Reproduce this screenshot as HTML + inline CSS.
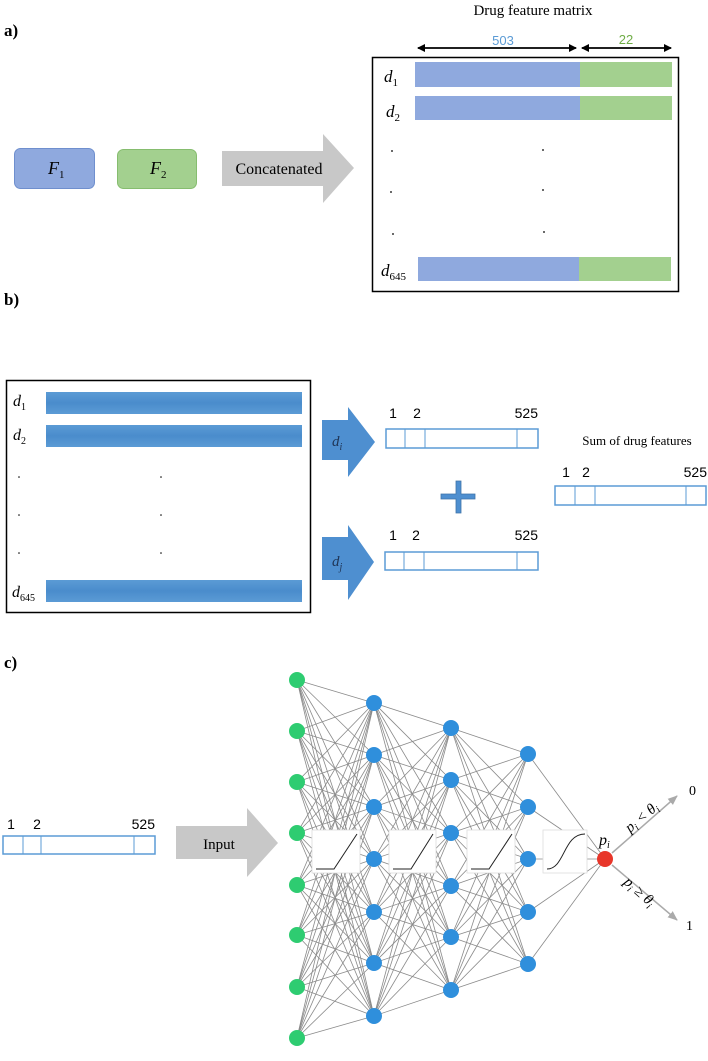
<!DOCTYPE html>
<html><head><meta charset="utf-8"><style>
html,body{margin:0;padding:0;background:#fff;}
svg{display:block;}
text{font-family:"Liberation Serif",serif;}
text.s,.s text{font-family:"Liberation Sans",sans-serif;}
</style></head><body>
<svg id="g" width="708" height="1061" viewBox="0 0 708 1061" xmlns="http://www.w3.org/2000/svg">
<defs>
<marker id="ah" markerWidth="8" markerHeight="8" refX="7" refY="4" orient="auto" markerUnits="userSpaceOnUse"><path d="M0,0 L8,4 L0,8 Z" fill="#000"/></marker>
<marker id="ag" markerWidth="10" markerHeight="10" refX="9" refY="5" orient="auto" markerUnits="userSpaceOnUse"><path d="M0,1 L10,5 L0,9 Z" fill="#aaa"/></marker>
<linearGradient id="bb" x1="0" y1="0" x2="0" y2="1"><stop offset="0" stop-color="#5b9bd5"/><stop offset="0.5" stop-color="#4a8ccc"/><stop offset="1" stop-color="#5b9bd5"/></linearGradient>
</defs>
<!-- a -->
<text x="4" y="36" font-size="17" font-weight="bold">a)</text>
<text x="533" y="15" font-size="15" text-anchor="middle">Drug feature matrix</text>
<text x="503" y="45" font-size="13" fill="#5b9bd5" text-anchor="middle" class="s">503</text>
<text x="626" y="44" font-size="13" fill="#70ad47" text-anchor="middle" class="s">22</text>
<line x1="418" y1="48" x2="576" y2="48" stroke="#000" stroke-width="1.5" marker-end="url(#ah)"/>
<line x1="576" y1="48" x2="418" y2="48" stroke="#000" stroke-width="1.5" marker-end="url(#ah)"/>
<line x1="582" y1="48" x2="671" y2="48" stroke="#000" stroke-width="1.5" marker-end="url(#ah)"/>
<line x1="671" y1="48" x2="582" y2="48" stroke="#000" stroke-width="1.5" marker-end="url(#ah)"/>
<rect x="372.5" y="57.5" width="306" height="234" fill="none" stroke="#000" stroke-width="1.5"/>
<rect x="415" y="62" width="165" height="25" fill="#8fa9de"/><rect x="580" y="62" width="92" height="25" fill="#a3d08f"/>
<rect x="415" y="96" width="165" height="24" fill="#8fa9de"/><rect x="580" y="96" width="92" height="24" fill="#a3d08f"/>
<rect x="418" y="257" width="161" height="24" fill="#8fa9de"/><rect x="579" y="257" width="92" height="24" fill="#a3d08f"/>
<text x="384" y="82" font-size="17" font-style="italic">d<tspan font-size="11" dy="4" font-style="normal">1</tspan></text>
<text x="386" y="117" font-size="17" font-style="italic">d<tspan font-size="11" dy="4" font-style="normal">2</tspan></text>
<text x="381" y="276" font-size="17" font-style="italic">d<tspan font-size="11" dy="4" font-style="normal">645</tspan></text>
<g fill="#000"><circle cx="392" cy="151" r="0.9"/><circle cx="543" cy="150" r="0.9"/><circle cx="391" cy="192" r="0.9"/><circle cx="543" cy="190" r="0.9"/><circle cx="393" cy="234" r="0.9"/><circle cx="544" cy="232" r="0.9"/></g>
<rect x="14.5" y="148.5" width="80" height="40" rx="6" fill="#8fa9de" stroke="#6f8fce"/>
<rect x="117.5" y="149.5" width="79" height="39" rx="6" fill="#a3d08f" stroke="#86bd6f"/>
<text x="48" y="174" font-size="18" font-style="italic">F<tspan font-size="11" dy="4" font-style="normal">1</tspan></text>
<text x="150" y="174" font-size="18" font-style="italic">F<tspan font-size="11" dy="4" font-style="normal">2</tspan></text>
<path d="M222,151 H323 V134 L354,168 L323,203 V186 H222 Z" fill="#c8c8c8"/>
<text x="279" y="174" font-size="16" text-anchor="middle">Concatenated</text>
<!-- b -->
<text x="4" y="305" font-size="17" font-weight="bold">b)</text>
<rect x="6.5" y="380.5" width="304" height="232" fill="none" stroke="#000" stroke-width="1.5"/>
<rect x="46" y="392" width="256" height="22" fill="url(#bb)"/>
<rect x="46" y="425" width="256" height="22" fill="url(#bb)"/>
<rect x="46" y="580" width="256" height="22" fill="url(#bb)"/>
<text x="13" y="406" font-size="16" font-style="italic">d<tspan font-size="10" dy="4" font-style="normal">1</tspan></text>
<text x="13" y="440" font-size="16" font-style="italic">d<tspan font-size="10" dy="4" font-style="normal">2</tspan></text>
<text x="12" y="597" font-size="16" font-style="italic">d<tspan font-size="10" dy="4" font-style="normal">645</tspan></text>
<g fill="#000"><circle cx="19" cy="477" r="0.8"/><circle cx="161" cy="477" r="0.8"/><circle cx="19" cy="515" r="0.8"/><circle cx="161" cy="515" r="0.8"/><circle cx="19" cy="553" r="0.8"/><circle cx="161" cy="553" r="0.8"/></g>
<path d="M322,420 H348 V407 L375,442 L348,477 V460 H322 Z" fill="#4e8fd0"/>
<path d="M322,537 H348 V525 L374,562 L348,600 V580 H322 Z" fill="#4e8fd0"/>
<text x="332" y="446" font-size="15" font-style="italic" fill="#1f3556">d<tspan font-size="10" dy="4">i</tspan></text>
<text x="332" y="566" font-size="15" font-style="italic" fill="#1f3556">d<tspan font-size="10" dy="4">j</tspan></text>
<g fill="none" stroke="#5b9bd5" stroke-width="1.5">
<rect x="386" y="429" width="152" height="19"/><line x1="405" y1="429" x2="405" y2="448" stroke-width="1"/><line x1="425" y1="429" x2="425" y2="448" stroke-width="1"/><line x1="517" y1="429" x2="517" y2="448" stroke-width="1"/>
<rect x="385" y="552" width="153" height="18"/><line x1="404" y1="552" x2="404" y2="570" stroke-width="1"/><line x1="424" y1="552" x2="424" y2="570" stroke-width="1"/><line x1="517" y1="552" x2="517" y2="570" stroke-width="1"/>
<rect x="555" y="486" width="151" height="19"/><line x1="575" y1="486" x2="575" y2="505" stroke-width="1"/><line x1="595" y1="486" x2="595" y2="505" stroke-width="1"/><line x1="686" y1="486" x2="686" y2="505" stroke-width="1"/>
</g>
<g class="s" font-size="14">
<text x="393" y="418" text-anchor="middle">1</text><text x="417" y="418" text-anchor="middle">2</text><text x="538" y="418" text-anchor="end">525</text>
<text x="393" y="540" text-anchor="middle">1</text><text x="416" y="540" text-anchor="middle">2</text><text x="538" y="540" text-anchor="end">525</text>
<text x="566" y="477" text-anchor="middle">1</text><text x="586" y="477" text-anchor="middle">2</text><text x="707" y="477" text-anchor="end">525</text>
<text x="11" y="829" text-anchor="middle">1</text><text x="37" y="829" text-anchor="middle">2</text><text x="155" y="829" text-anchor="end">525</text>
</g>
<text x="637" y="445" font-size="13" text-anchor="middle">Sum of drug features</text>
<path d="M441,494 H456 V481 H461 V494 H475 V499 H461 V513 H456 V499 H441 Z" fill="#4e8fd0" stroke="#3f74a8" stroke-width="0.8"/>
<!-- c -->
<text x="4" y="668" font-size="17" font-weight="bold">c)</text>
<g fill="none" stroke="#5b9bd5" stroke-width="1.5">
<rect x="3" y="836" width="152" height="18"/><line x1="23" y1="836" x2="23" y2="854" stroke-width="1"/><line x1="41" y1="836" x2="41" y2="854" stroke-width="1"/><line x1="134" y1="836" x2="134" y2="854" stroke-width="1"/>
</g>
<path d="M176,826 H247 V808 L278,843 L247,877 V859 H176 Z" fill="#c8c8c8"/>
<text x="219" y="849" font-size="15" text-anchor="middle">Input</text>
<g id="edges" stroke="#8a8a8a" stroke-width="0.8"></g>
<g id="plots"></g>
<g id="nodes"></g>
<line x1="612" y1="853" x2="677" y2="796" stroke="#aaa" stroke-width="1.5" marker-end="url(#ag)"/>
<line x1="612" y1="865" x2="677" y2="920" stroke="#aaa" stroke-width="1.5" marker-end="url(#ag)"/>
<text x="599" y="845" font-size="16" font-style="italic">p<tspan font-size="10" dy="3">i</tspan></text>
<text x="0" y="0" font-size="15" font-style="italic" transform="translate(630,833) rotate(-40)">p<tspan font-size="10" dy="3">i</tspan><tspan dy="-3"> &lt; θ</tspan><tspan font-size="10" dy="3">i</tspan></text>
<text x="0" y="0" font-size="15" font-style="italic" transform="translate(623,883) rotate(42)">p<tspan font-size="10" dy="3">i</tspan><tspan dy="-3"> ≥ θ</tspan><tspan font-size="10" dy="3">i</tspan></text>
<text x="689" y="795" font-size="14">0</text>
<text x="686" y="930" font-size="14">1</text>
</svg>
<script>
var NS="http://www.w3.org/2000/svg";
var L=[[297,[680,731,782,833,885,935,987,1038],"#2ecc71"],[374,[703,755,807,859,912,963,1016],"#2f8fdc"],[451,[728,780,833,886,937,990],"#2f8fdc"],[528,[754,807,859,912,964],"#2f8fdc"]];
var E=document.getElementById("edges"),N=document.getElementById("nodes"),P=document.getElementById("plots");
function el(t,a,p){var e=document.createElementNS(NS,t);for(var k in a)e.setAttribute(k,a[k]);p.appendChild(e);return e;}
for(var i=0;i<L.length-1;i++)L[i][1].forEach(function(a){L[i+1][1].forEach(function(b){el("line",{x1:L[i][0],y1:a,x2:L[i+1][0],y2:b},E);});});
L[3][1].forEach(function(b){el("line",{x1:528,y1:b,x2:605,y2:859},E);});
[[312,830,48,43,0],[389,830,47,43,0],[467,830,48,43,0],[543,830,44,43,1]].forEach(function(r){
 el("rect",{x:r[0],y:r[1],width:r[2],height:r[3],fill:"#fff",stroke:"#ddd","stroke-width":0.8},P);
 if(r[4])el("path",{d:"M"+(r[0]+4)+","+(r[1]+r[3]-4)+" C"+(r[0]+22)+","+(r[1]+r[3]-4)+" "+(r[0]+20)+","+(r[1]+4)+" "+(r[0]+r[2]-2)+","+(r[1]+4),fill:"none",stroke:"#222","stroke-width":1},P);
 else el("path",{d:"M"+(r[0]+4)+","+(r[1]+r[3]-4)+" H"+(r[0]+22)+" L"+(r[0]+r[2]-3)+","+(r[1]+4),fill:"none",stroke:"#222","stroke-width":1},P);
});
L.forEach(function(l){l[1].forEach(function(y){el("circle",{cx:l[0],cy:y,r:8,fill:l[2]},N);});});
el("circle",{cx:605,cy:859,r:8,fill:"#e8362a"},N);
</script>
</body></html>
